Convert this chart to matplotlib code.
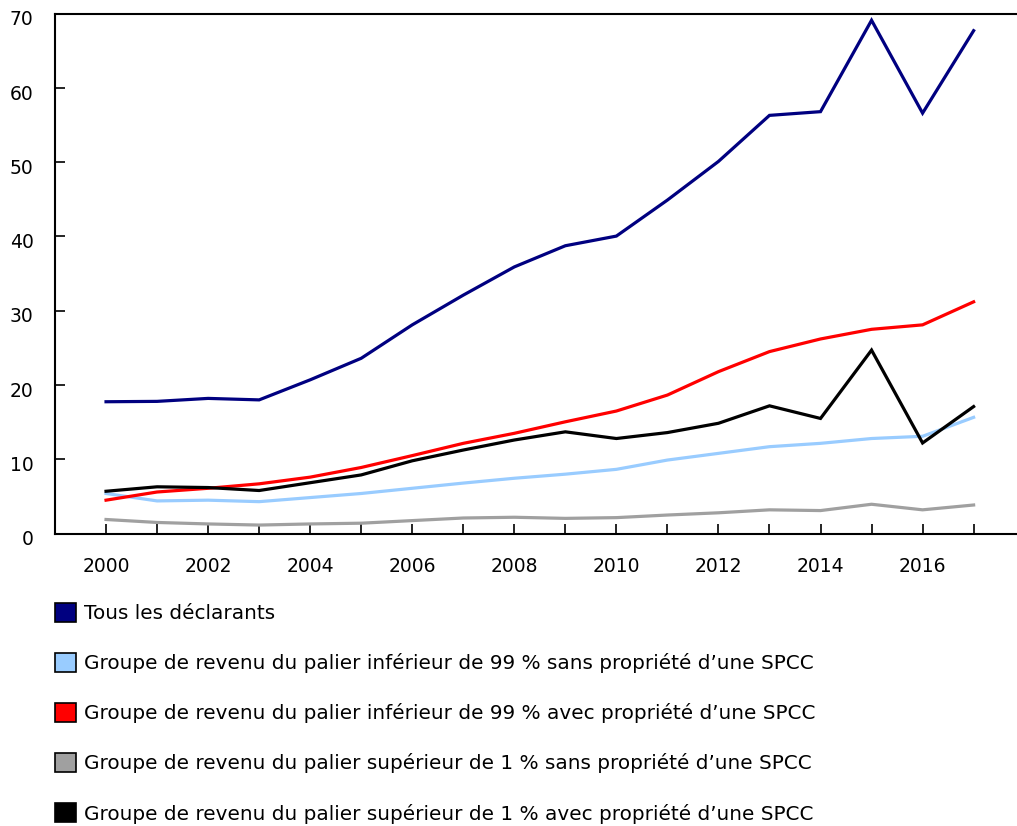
import numpy as np
import matplotlib
matplotlib.use("Agg")
import matplotlib.pyplot as plt
import matplotlib.transforms as mtransforms
from matplotlib.patches import Patch

years = list(range(2000, 2018))

tous = [17.75, 17.8, 18.2, 18.0, 20.7, 23.6, 28.1, 32.1, 35.9, 38.75, 40.05,
        44.9, 50.1, 56.3, 56.8, 69.1, 56.6, 67.7]
inf99_sans = [5.4, 4.4, 4.5, 4.3, 4.85, 5.4, 6.1, 6.8, 7.45, 8.0, 8.65,
              9.9, 10.8, 11.7, 12.15, 12.8, 13.1, 15.65]
inf99_avec = [4.5, 5.6, 6.1, 6.7, 7.6, 8.9, 10.5, 12.15, 13.5, 15.05, 16.5,
              18.65, 21.8, 24.5, 26.2, 27.5, 28.1, 31.2]
sup1_sans = [1.9, 1.5, 1.3, 1.15, 1.3, 1.4, 1.75, 2.1, 2.2, 2.05, 2.15,
             2.5, 2.8, 3.2, 3.1, 3.95, 3.2, 3.85]
sup1_avec = [5.7, 6.3, 6.2, 5.8, 6.85, 7.9, 9.8, 11.25, 12.6, 13.7, 12.8,
             13.6, 14.85, 17.2, 15.5, 24.7, 12.2, 17.1]

labels = [
    "Tous les déclarants",
    "Groupe de revenu du palier inférieur de 99 % sans propriété d\u2019une SPCC",
    "Groupe de revenu du palier inférieur de 99 % avec propriété d\u2019une SPCC",
    "Groupe de revenu du palier supérieur de 1 % sans propriété d\u2019une SPCC",
    "Groupe de revenu du palier supérieur de 1 % avec propriété d\u2019une SPCC",
]
colors = ["#000080", "#99ccff", "#ff0000", "#a0a0a0", "#000000"]
series = [tous, inf99_sans, inf99_avec, sup1_sans, sup1_avec]
# drawing order: gray, light blue, red, black, navy
draw_order = [3, 1, 2, 4, 0]

plt.rcParams['font.family'] = ['DejaVu Sans']
fig = plt.figure(figsize=(10.17, 8.26), dpi=100)
ax = fig.add_axes([55 / 1017, 292.4 / 826, 1 - 55 / 1017, 520 / 826])

for i in draw_order:
    ax.plot(years, series[i], color=colors[i], linewidth=2.3, solid_joinstyle='miter')

ax.set_xlim(1999, 2017.85)
ax.set_ylim(0, 70)
ax.set_yticks(range(0, 71, 10))
ax.set_xticks(years)
ax.set_xticklabels([str(y) if y % 2 == 0 else "" for y in years])

ax.spines['right'].set_visible(False)
for s in ['left', 'bottom', 'top']:
    ax.spines[s].set_linewidth(1.5)

ax.tick_params(axis='x', direction='in', length=7, width=1.2, pad=17, labelsize=13.5)
ax.tick_params(axis='y', direction='in', length=7, width=1.2, pad=15.5, labelsize=13.5)

shift = mtransforms.ScaledTranslation(0, -3 / 72, fig.dpi_scale_trans)
for lbl in ax.get_yticklabels():
    lbl.set_transform(lbl.get_transform() + shift)

handles = [Patch(facecolor=c, edgecolor='black', linewidth=1.2) for c in colors]
fig.legend(handles, labels, loc='upper left', bbox_to_anchor=(55 / 1017, 1 - 603 / 826),
           frameon=False, fontsize=14.4, borderpad=0, borderaxespad=0,
           handlelength=1.05, handleheight=1.05, handletextpad=0.4, labelspacing=1.5)

fig.savefig("out.png", dpi=100)
